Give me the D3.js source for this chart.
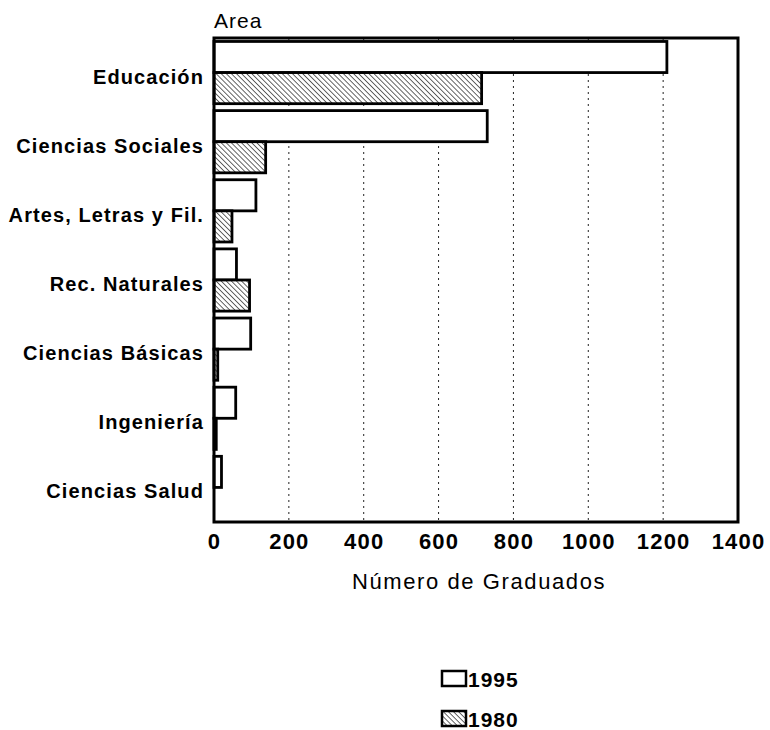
<!DOCTYPE html>
<html>
<head>
<meta charset="utf-8">
<script src="https://cdn.jsdelivr.net/npm/d3@7"></script>
<style>
  body { margin: 0; background: #fff; }
  text { font-family: "Liberation Sans", Arial, sans-serif; fill: #000; }
</style>
</head>
<body>
<script>
// datos
var areas = ["Educación", "Ciencias Sociales", "Artes, Letras y Fil.", "Rec. Naturales", "Ciencias Básicas", "Ingeniería", "Ciencias Salud"];
var years = ["1995", "1980"];
var values1995 = [1210, 730, 112, 60, 98, 58, 20];
var values1980 = [715, 138, 48, 95, 10, 6, 0];
var xTicks = [0, 200, 400, 600, 800, 1000, 1200, 1400];

var width = 770, height = 730;
// ojo: "top" choca con window.top
var mLeft = 214, mRight = 738, mTop = 38, mBottom = 522;

var svg = d3.select("body").append("svg")
    .attr("width", width)
    .attr("height", height);

// rayado diagonal para 1980
var hs = 3.6;
var pat = svg.append("defs").append("pattern")
    .attr("id", "hatch")
    .attr("patternUnits", "userSpaceOnUse")
    .attr("width", hs)
    .attr("height", hs)
    .attr("patternTransform", "rotate(-45)");
pat.append("rect").attr("width", hs).attr("height", hs).attr("fill", "#fff");
pat.append("line")
    .attr("x1", 0).attr("y1", 0).attr("x2", 0).attr("y2", hs)
    .attr("stroke", "#000").attr("stroke-width", 1.2);

var x = d3.scaleLinear().domain([0, 1400]).range([mLeft, mRight]);
var y = d3.scaleBand().domain(areas).range([mTop, mBottom]).paddingInner(0.1).paddingOuter(0.05);
var yInner = d3.scaleBand().domain(years).range([0, y.bandwidth()]);

var rows = areas.map((a, i) => ({area: a, v: [values1995[i], values1980[i]]}));

// lineas de grilla punteadas
svg.append("g").selectAll("line")
    .data(xTicks.filter(t => t > 0 && t < 1400))
    .enter().append("line")
    .attr("x1", d => x(d)).attr("x2", d => x(d))
    .attr("y1", mTop).attr("y2", mBottom)
    .attr("stroke", "#222")
    .attr("stroke-width", 1)
    .attr("stroke-dasharray", "2,4");

var grp = svg.append("g").selectAll("g")
    .data(rows)
    .enter().append("g")
    .attr("transform", d => "translate(0," + y(d.area) + ")");

grp.selectAll("rect")
    .data(d => d.v.map((v, j) => ({year: years[j], v: v})))
    .enter().append("rect")
    .attr("x", x(0))
    .attr("y", d => yInner(d.year))
    .attr("width", d => Math.max(x(d.v) - x(0), 0))
    .attr("height", yInner.bandwidth())
    .attr("fill", d => d.year == "1980" ? "url(#hatch)" : "#fff")
    .attr("stroke", "#000")
    .attr("stroke-width", d => d.v > 0 ? 2.8 : 0);

// marco
svg.append("rect")
    .attr("x", mLeft).attr("y", mTop)
    .attr("width", mRight - mLeft).attr("height", mBottom - mTop)
    .attr("fill", "none")
    .attr("stroke", "#000")
    .attr("stroke-width", 3);

// etiquetas de categorias
svg.append("g").selectAll("text")
    .data(areas)
    .enter().append("text")
    .attr("x", mLeft - 10)
    .attr("y", d => y(d) + y.bandwidth() / 2 + 4)
    .attr("dy", "0.35em")
    .attr("text-anchor", "end")
    .style("font-size", "20px")
    .style("font-weight", "bold")
    .style("letter-spacing", "1.1px")
    .text(d => d);

svg.append("text")
    .attr("x", mLeft)
    .attr("y", 28)
    .style("font-size", "21px")
    .style("letter-spacing", "1px")
    .text("Area");

// eje x
var xAxis = svg.append("g")
    .attr("transform", "translate(0," + mBottom + ")")
    .call(d3.axisBottom(x).tickValues(xTicks).tickSize(0).tickPadding(11).tickFormat(d3.format("d")));
xAxis.select(".domain").remove();
xAxis.selectAll("text")
    .style("font-family", "Liberation Sans, Arial, sans-serif")
    .style("font-size", "22px")
    .style("font-weight", "bold")
    .style("letter-spacing", "1.2px");

svg.append("text")
    .attr("x", (mLeft + mRight) / 2 + 3)
    .attr("y", 589)
    .attr("text-anchor", "middle")
    .style("font-size", "22px")
    .style("letter-spacing", "1.6px")
    .text("Número de Graduados");

// leyenda
var leg = svg.append("g").selectAll("g")
    .data(years)
    .enter().append("g")
    .attr("transform", (d, i) => "translate(442," + (671 + i * 40) + ")");
leg.append("rect")
    .attr("width", 24).attr("height", 15)
    .attr("fill", d => d == "1980" ? "url(#hatch)" : "#fff")
    .attr("stroke", "#000")
    .attr("stroke-width", 2.5);
leg.append("text")
    .attr("x", 26)
    .attr("y", 16)
    .style("font-size", "21px")
    .style("font-weight", "bold")
    .style("letter-spacing", "1px")
    .text(d => d);
</script>
</body>
</html>
